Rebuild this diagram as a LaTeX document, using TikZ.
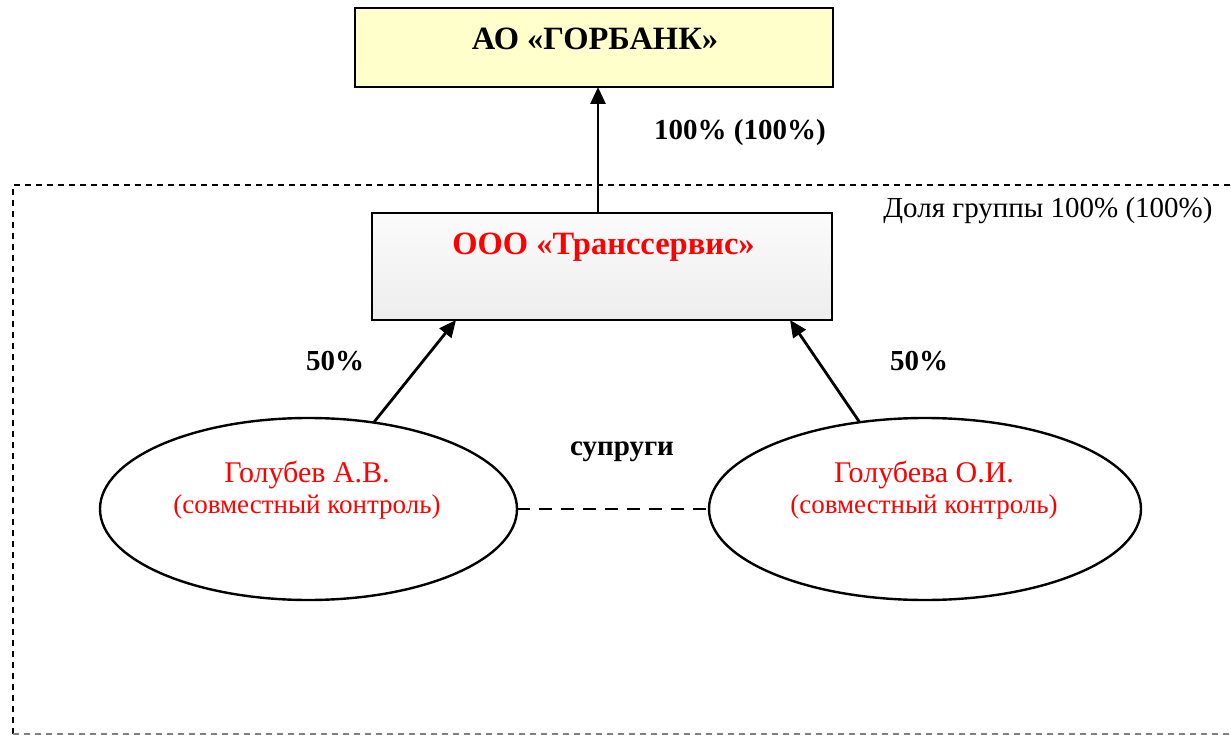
\documentclass[tikz,border=0pt]{standalone}
\usepackage{fontspec}
\setmainfont{Liberation Serif}
\usetikzlibrary{arrows.meta,shapes.geometric,calc}
\definecolor{bankfill}{HTML}{FFFFCC}
\definecolor{redtxt}{HTML}{FF0000}
\tikzset{
  every node/.style={inner sep=0pt,outer sep=0pt},
  boxstyle/.style={draw=black,line width=2.5pt,rectangle},
  ellstyle/.style={draw=black,line width=2.4pt,ellipse,fill=white},
  arr/.style={line width=2.8pt,-{Triangle[length=17pt,width=15pt]}},
  bigbold/.style={font=\fontsize{32.5}{38}\selectfont\bfseries,anchor=base},
  midbold/.style={font=\fontsize{29}{34}\selectfont\bfseries},
  midreg/.style={font=\fontsize{29}{34}\selectfont},
  namered/.style={font=\fontsize{30}{34}\selectfont,text=redtxt,anchor=base},
  smallred/.style={font=\fontsize{27}{31}\selectfont,text=redtxt,anchor=base},
  framestyle/.style={line width=2pt,dash pattern=on 6pt off 5pt},
  linkstyle/.style={line width=2.5pt,dash pattern=on 13pt off 9pt}
}
\begin{document}
\begin{tikzpicture}[x=1pt,y=-1pt]
\useasboundingbox (0,0) rectangle (1231,735);
% group frame
\draw[framestyle] (13,734) -- (13,185) -- (1240,185);
\draw[framestyle,draw=gray] (13,734) -- (1240,734);
% boxes
\node[boxstyle,fill=bankfill,minimum width=478pt,minimum height=79pt] (bank) at (594,47.5) {};
\node[bigbold] (banktxt) at (595,50) {АО «ГОРБАНК»};
\node[boxstyle,top color=gray!3,bottom color=gray!14,minimum width=460pt,minimum height=107pt] (trans) at (602,266.5) {};
\node[bigbold,text=redtxt] (transtxt) at (603.5,255) {ООО «Транссервис»};
% ellipses
\node[ellstyle,minimum width=417pt,minimum height=182pt] (golub) at (308.5,509) {};
\node[namered] (golubname) at (307,482) {Голубев А.В.};
\node[smallred] (golubnote) at (307,513) {(совместный контроль)};
\node[ellstyle,minimum width=432pt,minimum height=182pt] (golubeva) at (925,509) {};
\node[namered] (golubevaname) at (924,482) {Голубева О.И.};
\node[smallred] (golubevanote) at (924,513) {(совместный контроль)};
% arrows
\draw[arr] ($(trans.north)+(-4,0)$) -- ($(bank.south)+(4,0)$);
\draw[arr] (golub.53) -- ($(trans.south west)+(84,0)$);
\draw[arr] (golubeva.127) -- ($(trans.south east)+(-42,0)$);
\draw[linkstyle] (golub.east) -- (golubeva.west);
% labels
\node[midbold] (lbltop) at (740,133) {100\% (100\%)};
\node[midreg] (lblgroup) at (1048,211) {Доля группы 100\% (100\%)};
\node[midbold] (lblleft) at (335,361) {50\%};
\node[midbold] (lblright) at (919,361) {50\%};
\node[midbold] (lblsp) at (622,452) {супруги};
\end{tikzpicture}
\end{document}
